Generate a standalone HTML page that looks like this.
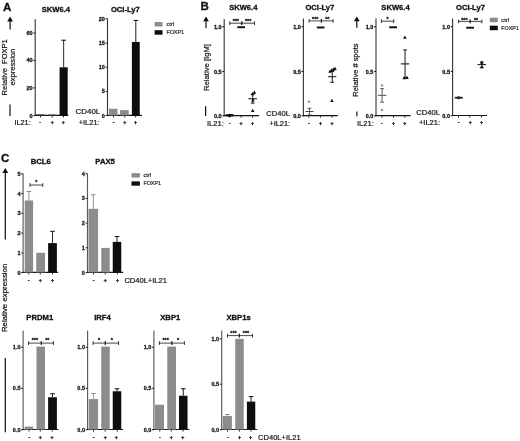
<!DOCTYPE html>
<html><head><meta charset="utf-8"><title>Figure</title>
<style>
html,body{margin:0;padding:0;background:#fff;}
body{width:520px;height:441px;overflow:hidden;}
svg{display:block;}
svg text{font-family:"Liberation Sans",sans-serif;}
</style></head><body>
<svg width="520" height="441" viewBox="0 0 520 441">
<rect width="520" height="441" fill="#fff"/>
<g filter="url(#bl)">
<text x="2.9" y="10.8" font-size="11.5" text-anchor="start" font-weight="bold" stroke="#111" stroke-width="0.3" fill="#111" >A</text>
<polygon points="10.1,16.6 7.199999999999999,21.5 13.0,21.5" fill="#111"/>
<line x1="10.1" y1="21.0" x2="10.1" y2="29.6" stroke="#111" stroke-width="1.2"/>
<text transform="translate(7.1,67.3) rotate(-90)" font-size="7.5" text-anchor="middle" fill="#111" stroke="#111" stroke-width="0.2" xml:space="preserve" textLength="56.2" lengthAdjust="spacingAndGlyphs">Relative  FOXP1</text>
<text transform="translate(14.8,67.1) rotate(-90)" font-size="7.5" text-anchor="middle" fill="#111" stroke="#111" stroke-width="0.2" xml:space="preserve" textLength="36.8" lengthAdjust="spacingAndGlyphs">expression</text>
<line x1="10" y1="104.4" x2="10" y2="116" stroke="#111" stroke-width="1.2"/>
<text x="55.9" y="12.3" font-size="7.6" text-anchor="middle" font-weight="bold" stroke="#111" stroke-width="0.3" fill="#111" >SKW6.4</text>
<line x1="35.2" y1="19.3" x2="35.2" y2="116.0" stroke="#383838" stroke-width="1.15"/>
<line x1="34.7" y1="115.4" x2="68.3" y2="115.4" stroke="#161616" stroke-width="1.2"/>
<line x1="33.300000000000004" y1="33" x2="35.2" y2="33" stroke="#161616" stroke-width="1.0"/>
<text x="32.6" y="35.0" font-size="5.5" text-anchor="end" font-weight="bold" stroke="#161616" stroke-width="0.3" fill="#161616" >60</text>
<line x1="33.300000000000004" y1="60.4" x2="35.2" y2="60.4" stroke="#161616" stroke-width="1.0"/>
<text x="32.6" y="62.4" font-size="5.5" text-anchor="end" font-weight="bold" stroke="#161616" stroke-width="0.3" fill="#161616" >40</text>
<line x1="33.300000000000004" y1="87.9" x2="35.2" y2="87.9" stroke="#161616" stroke-width="1.0"/>
<text x="32.6" y="89.9" font-size="5.5" text-anchor="end" font-weight="bold" stroke="#161616" stroke-width="0.3" fill="#161616" >20</text>
<line x1="33.300000000000004" y1="115.6" x2="35.2" y2="115.6" stroke="#161616" stroke-width="1.0"/>
<text x="32.6" y="117.6" font-size="5.5" text-anchor="end" font-weight="bold" stroke="#161616" stroke-width="0.3" fill="#161616" >0</text>
<line x1="40.5" y1="115.4" x2="40.5" y2="117.5" stroke="#161616" stroke-width="0.9"/>
<line x1="52.25" y1="115.4" x2="52.25" y2="117.5" stroke="#161616" stroke-width="0.9"/>
<line x1="63.5" y1="115.4" x2="63.5" y2="117.5" stroke="#161616" stroke-width="0.9"/>
<rect x="36.3" y="114.2" width="8.100000000000001" height="1.2000000000000028" fill="#555"/>
<rect x="48" y="114.5" width="7.600000000000001" height="0.9000000000000057" fill="#555"/>
<rect x="59.6" y="67.3" width="8.100000000000001" height="48.10000000000001" fill="#0a0a0a"/>
<line x1="63.650000000000006" y1="40.2" x2="63.650000000000006" y2="67.3" stroke="#0a0a0a" stroke-width="0.9"/>
<line x1="61.35000000000001" y1="40.2" x2="65.95" y2="40.2" stroke="#0a0a0a" stroke-width="1.0"/>
<text x="14.4" y="125" font-size="7.5" text-anchor="start" stroke="#111" stroke-width="0.2" fill="#111"  textLength="16.3" lengthAdjust="spacingAndGlyphs">IL21:</text>
<text x="40.2" y="124.1" font-size="5.2" text-anchor="middle" font-weight="bold" stroke="#111" stroke-width="0.3" fill="#111" >-</text>
<text x="52.25" y="124.1" font-size="5.2" text-anchor="middle" font-weight="bold" stroke="#111" stroke-width="0.3" fill="#111" >+</text>
<text x="63.2" y="124.1" font-size="5.2" text-anchor="middle" font-weight="bold" stroke="#111" stroke-width="0.3" fill="#111" >+</text>
<text x="125.3" y="12.3" font-size="7.6" text-anchor="middle" font-weight="bold" stroke="#111" stroke-width="0.3" fill="#111" >OCI-Ly7</text>
<line x1="107.5" y1="18.6" x2="107.5" y2="116.0" stroke="#383838" stroke-width="1.15"/>
<line x1="107.0" y1="115.4" x2="141.9" y2="115.4" stroke="#161616" stroke-width="1.2"/>
<line x1="105.6" y1="18.7" x2="107.5" y2="18.7" stroke="#161616" stroke-width="1.0"/>
<text x="104.89999999999999" y="20.7" font-size="5.5" text-anchor="end" font-weight="bold" stroke="#161616" stroke-width="0.3" fill="#161616" >20</text>
<line x1="105.6" y1="43" x2="107.5" y2="43" stroke="#161616" stroke-width="1.0"/>
<text x="104.89999999999999" y="45.0" font-size="5.5" text-anchor="end" font-weight="bold" stroke="#161616" stroke-width="0.3" fill="#161616" >15</text>
<line x1="105.6" y1="67.2" x2="107.5" y2="67.2" stroke="#161616" stroke-width="1.0"/>
<text x="104.89999999999999" y="69.2" font-size="5.5" text-anchor="end" font-weight="bold" stroke="#161616" stroke-width="0.3" fill="#161616" >10</text>
<line x1="105.6" y1="91.4" x2="107.5" y2="91.4" stroke="#161616" stroke-width="1.0"/>
<text x="104.89999999999999" y="93.4" font-size="5.5" text-anchor="end" font-weight="bold" stroke="#161616" stroke-width="0.3" fill="#161616" >5</text>
<line x1="105.6" y1="115.6" x2="107.5" y2="115.6" stroke="#161616" stroke-width="1.0"/>
<text x="104.89999999999999" y="117.6" font-size="5.5" text-anchor="end" font-weight="bold" stroke="#161616" stroke-width="0.3" fill="#161616" >0</text>
<line x1="113.5" y1="115.4" x2="113.5" y2="117.5" stroke="#161616" stroke-width="0.9"/>
<line x1="124.75" y1="115.4" x2="124.75" y2="117.5" stroke="#161616" stroke-width="0.9"/>
<line x1="135.6" y1="115.4" x2="135.6" y2="117.5" stroke="#161616" stroke-width="0.9"/>
<rect x="109" y="108.75" width="8.5" height="6.650000000000006" fill="#8c8c8c"/>
<rect x="120" y="110.1" width="8.75" height="5.300000000000011" fill="#8c8c8c"/>
<rect x="131.9" y="42" width="7.849999999999994" height="73.4" fill="#0a0a0a"/>
<line x1="135.825" y1="20.4" x2="135.825" y2="42" stroke="#0a0a0a" stroke-width="0.9"/>
<line x1="133.52499999999998" y1="20.4" x2="138.125" y2="20.4" stroke="#0a0a0a" stroke-width="1.0"/>
<text x="75.6" y="114.4" font-size="7.6" text-anchor="start" stroke="#111" stroke-width="0.2" fill="#111"  textLength="24.6" lengthAdjust="spacingAndGlyphs">CD40L</text>
<text x="78.7" y="125" font-size="7.5" text-anchor="start" stroke="#111" stroke-width="0.2" fill="#111"  textLength="20.7" lengthAdjust="spacingAndGlyphs">+IL21:</text>
<text x="113.5" y="124.1" font-size="5.2" text-anchor="middle" font-weight="bold" stroke="#111" stroke-width="0.3" fill="#111" >-</text>
<text x="124.75" y="124.1" font-size="5.2" text-anchor="middle" font-weight="bold" stroke="#111" stroke-width="0.3" fill="#111" >+</text>
<text x="135.6" y="124.1" font-size="5.2" text-anchor="middle" font-weight="bold" stroke="#111" stroke-width="0.3" fill="#111" >+</text>
<rect x="154.6" y="22.0" width="7.9" height="4.5" fill="#8c8c8c"/>
<text x="166.4" y="26.05" font-size="5.3" text-anchor="start" stroke="#2a2a2a" stroke-width="0.2" fill="#2a2a2a"  textLength="7.8" lengthAdjust="spacingAndGlyphs">ctrl</text>
<rect x="154.6" y="30.2" width="7.9" height="4.5" fill="#0a0a0a"/>
<text x="166.4" y="34.25" font-size="5.3" text-anchor="start" stroke="#2a2a2a" stroke-width="0.2" fill="#2a2a2a"  textLength="17.6" lengthAdjust="spacingAndGlyphs">FOXP1</text>
<text x="200.6" y="10.4" font-size="11.5" text-anchor="start" font-weight="bold" stroke="#111" stroke-width="0.3" fill="#111" >B</text>
<polygon points="206,16.6 203.1,21.3 208.9,21.3" fill="#111"/>
<line x1="206" y1="20.8" x2="206" y2="28.3" stroke="#111" stroke-width="1.2"/>
<text transform="translate(208.5,67.5) rotate(-90)" font-size="7.6" text-anchor="middle" fill="#111" stroke="#111" stroke-width="0.2" xml:space="preserve" textLength="47" lengthAdjust="spacingAndGlyphs">Relative [IgM]</text>
<line x1="205.6" y1="106.2" x2="205.6" y2="116" stroke="#111" stroke-width="1.2"/>
<text x="243.3" y="9.9" font-size="7.6" text-anchor="middle" font-weight="bold" stroke="#111" stroke-width="0.3" fill="#111" >SKW6.4</text>
<line x1="224.2" y1="19" x2="224.2" y2="116.19999999999999" stroke="#383838" stroke-width="1.15"/>
<line x1="223.7" y1="115.6" x2="259" y2="115.6" stroke="#161616" stroke-width="1.2"/>
<line x1="222.29999999999998" y1="26.8" x2="224.2" y2="26.8" stroke="#161616" stroke-width="1.0"/>
<text x="221.6" y="28.8" font-size="5.5" text-anchor="end" font-weight="bold" stroke="#161616" stroke-width="0.3" fill="#161616" >1.0</text>
<line x1="222.29999999999998" y1="71.5" x2="224.2" y2="71.5" stroke="#161616" stroke-width="1.0"/>
<text x="221.6" y="73.5" font-size="5.5" text-anchor="end" font-weight="bold" stroke="#161616" stroke-width="0.3" fill="#161616" >0.5</text>
<line x1="222.29999999999998" y1="115.8" x2="224.2" y2="115.8" stroke="#161616" stroke-width="1.0"/>
<text x="221.6" y="117.8" font-size="5.5" text-anchor="end" font-weight="bold" stroke="#161616" stroke-width="0.3" fill="#161616" >0.0</text>
<line x1="229.75" y1="115.6" x2="229.75" y2="117.69999999999999" stroke="#161616" stroke-width="0.9"/>
<line x1="241.1" y1="115.6" x2="241.1" y2="117.69999999999999" stroke="#161616" stroke-width="0.9"/>
<line x1="252.6" y1="115.6" x2="252.6" y2="117.69999999999999" stroke="#161616" stroke-width="0.9"/>
<line x1="229.8" y1="23.2" x2="241.8" y2="23.2" stroke="#161616" stroke-width="0.8"/>
<line x1="229.8" y1="21.4" x2="229.8" y2="25.0" stroke="#161616" stroke-width="0.9"/>
<line x1="241.8" y1="21.4" x2="241.8" y2="25.0" stroke="#161616" stroke-width="0.9"/>
<text x="235.8" y="23.4" font-size="5.4" text-anchor="middle" font-weight="bold" stroke="#161616" stroke-width="0.3" fill="#161616" >***</text>
<line x1="241.8" y1="23.2" x2="254.5" y2="23.2" stroke="#161616" stroke-width="0.8"/>
<line x1="241.8" y1="21.4" x2="241.8" y2="25.0" stroke="#161616" stroke-width="0.9"/>
<line x1="254.5" y1="21.4" x2="254.5" y2="25.0" stroke="#161616" stroke-width="0.9"/>
<text x="248.15" y="23.4" font-size="5.4" text-anchor="middle" font-weight="bold" stroke="#161616" stroke-width="0.3" fill="#161616" >***</text>
<line x1="237.3" y1="27.2" x2="245" y2="27.2" stroke="#0a0a0a" stroke-width="1.9"/>
<line x1="225.8" y1="115.3" x2="233.6" y2="115.3" stroke="#111" stroke-width="2.3"/>
<ellipse cx="229.7" cy="115.2" rx="1.8" ry="1.5" fill="#111"/>
<line x1="248.4" y1="98.75" x2="257" y2="98.75" stroke="#0a0a0a" stroke-width="1.0"/>
<line x1="252.7" y1="94.4" x2="252.7" y2="103.1" stroke="#0a0a0a" stroke-width="0.9"/>
<line x1="250.79999999999998" y1="94.4" x2="254.6" y2="94.4" stroke="#0a0a0a" stroke-width="0.9"/>
<line x1="250.79999999999998" y1="103.1" x2="254.6" y2="103.1" stroke="#0a0a0a" stroke-width="0.9"/>
<polygon points="254.4,90.55 252.65,93.7875 256.15,93.7875" fill="#0a0a0a"/>
<polygon points="252.5,91.95 250.75,95.1875 254.25,95.1875" fill="#0a0a0a"/>
<polygon points="252.9,98.15 251.15,101.3875 254.65,101.3875" fill="#0a0a0a"/>
<polygon points="252.7,108.85 250.95,112.08749999999999 254.45,112.08749999999999" fill="#0a0a0a"/>
<text x="206.9" y="125.6" font-size="7.6" text-anchor="start" stroke="#111" stroke-width="0.2" fill="#111"  textLength="16.9" lengthAdjust="spacingAndGlyphs">IL21:</text>
<text x="229.75" y="124.7" font-size="5.2" text-anchor="middle" font-weight="bold" stroke="#111" stroke-width="0.3" fill="#111" >-</text>
<text x="241.1" y="124.7" font-size="5.2" text-anchor="middle" font-weight="bold" stroke="#111" stroke-width="0.3" fill="#111" >+</text>
<text x="252.6" y="124.7" font-size="5.2" text-anchor="middle" font-weight="bold" stroke="#111" stroke-width="0.3" fill="#111" >+</text>
<text x="319.8" y="9.9" font-size="7.6" text-anchor="middle" font-weight="bold" stroke="#111" stroke-width="0.3" fill="#111" >OCI-Ly7</text>
<line x1="303.4" y1="18.6" x2="303.4" y2="116.19999999999999" stroke="#383838" stroke-width="1.15"/>
<line x1="302.9" y1="115.6" x2="337.8" y2="115.6" stroke="#161616" stroke-width="1.2"/>
<line x1="301.5" y1="26.8" x2="303.4" y2="26.8" stroke="#161616" stroke-width="1.0"/>
<text x="300.8" y="28.8" font-size="5.5" text-anchor="end" font-weight="bold" stroke="#161616" stroke-width="0.3" fill="#161616" >1.0</text>
<line x1="301.5" y1="71.5" x2="303.4" y2="71.5" stroke="#161616" stroke-width="1.0"/>
<text x="300.8" y="73.5" font-size="5.5" text-anchor="end" font-weight="bold" stroke="#161616" stroke-width="0.3" fill="#161616" >0.5</text>
<line x1="301.5" y1="115.8" x2="303.4" y2="115.8" stroke="#161616" stroke-width="1.0"/>
<text x="300.8" y="117.8" font-size="5.5" text-anchor="end" font-weight="bold" stroke="#161616" stroke-width="0.3" fill="#161616" >0.0</text>
<line x1="308.75" y1="115.6" x2="308.75" y2="117.69999999999999" stroke="#161616" stroke-width="0.9"/>
<line x1="320.4" y1="115.6" x2="320.4" y2="117.69999999999999" stroke="#161616" stroke-width="0.9"/>
<line x1="332" y1="115.6" x2="332" y2="117.69999999999999" stroke="#161616" stroke-width="0.9"/>
<line x1="309.1" y1="20.9" x2="321.4" y2="20.9" stroke="#161616" stroke-width="0.8"/>
<line x1="309.1" y1="19.099999999999998" x2="309.1" y2="22.7" stroke="#161616" stroke-width="0.9"/>
<line x1="321.4" y1="19.099999999999998" x2="321.4" y2="22.7" stroke="#161616" stroke-width="0.9"/>
<text x="315.25" y="21.099999999999998" font-size="5.4" text-anchor="middle" font-weight="bold" stroke="#161616" stroke-width="0.3" fill="#161616" >***</text>
<line x1="321.4" y1="20.9" x2="333.1" y2="20.9" stroke="#161616" stroke-width="0.8"/>
<line x1="321.4" y1="19.099999999999998" x2="321.4" y2="22.7" stroke="#161616" stroke-width="0.9"/>
<line x1="333.1" y1="19.099999999999998" x2="333.1" y2="22.7" stroke="#161616" stroke-width="0.9"/>
<text x="327.25" y="21.099999999999998" font-size="5.4" text-anchor="middle" font-weight="bold" stroke="#161616" stroke-width="0.3" fill="#161616" >**</text>
<line x1="316.8" y1="27.5" x2="324.5" y2="27.5" stroke="#0a0a0a" stroke-width="1.9"/>
<circle cx="309" cy="101.7" r="1.25" fill="#999"/>
<line x1="305.4" y1="111.5" x2="313.5" y2="111.5" stroke="#4a4a4a" stroke-width="1.0"/>
<line x1="309.45" y1="108.3" x2="309.45" y2="115" stroke="#4a4a4a" stroke-width="0.9"/>
<line x1="307.55" y1="108.3" x2="311.34999999999997" y2="108.3" stroke="#4a4a4a" stroke-width="0.9"/>
<line x1="307.55" y1="115" x2="311.34999999999997" y2="115" stroke="#4a4a4a" stroke-width="0.9"/>
<line x1="328.2" y1="76.7" x2="336.3" y2="76.7" stroke="#0a0a0a" stroke-width="1.0"/>
<line x1="332.25" y1="71.5" x2="332.25" y2="82.3" stroke="#0a0a0a" stroke-width="0.9"/>
<line x1="330.35" y1="71.5" x2="334.15" y2="71.5" stroke="#0a0a0a" stroke-width="0.9"/>
<line x1="330.35" y1="82.3" x2="334.15" y2="82.3" stroke="#0a0a0a" stroke-width="0.9"/>
<polygon points="330,69.45 328.25,72.6875 331.75,72.6875" fill="#0a0a0a"/>
<polygon points="331.8,68.25 330.05,71.4875 333.55,71.4875" fill="#0a0a0a"/>
<polygon points="333.4,67.45 331.65,70.6875 335.15,70.6875" fill="#0a0a0a"/>
<polygon points="335,66.85 333.25,70.08749999999999 336.75,70.08749999999999" fill="#0a0a0a"/>
<polygon points="331.9,98.65 330.15,101.8875 333.65,101.8875" fill="#0a0a0a"/>
<text x="266.25" y="116.4" font-size="7.6" text-anchor="start" stroke="#111" stroke-width="0.2" fill="#111"  textLength="23.6" lengthAdjust="spacingAndGlyphs">CD40L</text>
<text x="269.4" y="125.9" font-size="7.5" text-anchor="start" stroke="#111" stroke-width="0.2" fill="#111"  textLength="20.7" lengthAdjust="spacingAndGlyphs">+IL21:</text>
<text x="308.75" y="124.9" font-size="5.2" text-anchor="middle" font-weight="bold" stroke="#111" stroke-width="0.3" fill="#111" >-</text>
<text x="320.6" y="124.9" font-size="5.2" text-anchor="middle" font-weight="bold" stroke="#111" stroke-width="0.3" fill="#111" >+</text>
<text x="332" y="124.9" font-size="5.2" text-anchor="middle" font-weight="bold" stroke="#111" stroke-width="0.3" fill="#111" >+</text>
<polygon points="356.8,16.6 353.90000000000003,21.3 359.7,21.3" fill="#111"/>
<line x1="356.8" y1="20.8" x2="356.8" y2="27.8" stroke="#111" stroke-width="1.2"/>
<text transform="translate(358,70.1) rotate(-90)" font-size="7.6" text-anchor="middle" fill="#111" stroke="#111" stroke-width="0.2" xml:space="preserve" textLength="53.2" lengthAdjust="spacingAndGlyphs">Relative # spots</text>
<line x1="356.9" y1="111.5" x2="356.9" y2="116.2" stroke="#111" stroke-width="1.2"/>
<text x="395.5" y="9.9" font-size="7.6" text-anchor="middle" font-weight="bold" stroke="#111" stroke-width="0.3" fill="#111" >SKW6.4</text>
<line x1="376" y1="18.6" x2="376" y2="116.19999999999999" stroke="#383838" stroke-width="1.15"/>
<line x1="375.5" y1="115.6" x2="410.6" y2="115.6" stroke="#161616" stroke-width="1.2"/>
<line x1="374.1" y1="26.8" x2="376" y2="26.8" stroke="#161616" stroke-width="1.0"/>
<text x="373.40000000000003" y="28.8" font-size="5.5" text-anchor="end" font-weight="bold" stroke="#161616" stroke-width="0.3" fill="#161616" >1.0</text>
<line x1="374.1" y1="71.5" x2="376" y2="71.5" stroke="#161616" stroke-width="1.0"/>
<text x="373.40000000000003" y="73.5" font-size="5.5" text-anchor="end" font-weight="bold" stroke="#161616" stroke-width="0.3" fill="#161616" >0.5</text>
<line x1="374.1" y1="115.8" x2="376" y2="115.8" stroke="#161616" stroke-width="1.0"/>
<text x="373.40000000000003" y="117.8" font-size="5.5" text-anchor="end" font-weight="bold" stroke="#161616" stroke-width="0.3" fill="#161616" >0.0</text>
<line x1="381.9" y1="115.6" x2="381.9" y2="117.69999999999999" stroke="#161616" stroke-width="0.9"/>
<line x1="393.5" y1="115.6" x2="393.5" y2="117.69999999999999" stroke="#161616" stroke-width="0.9"/>
<line x1="404.75" y1="115.6" x2="404.75" y2="117.69999999999999" stroke="#161616" stroke-width="0.9"/>
<line x1="381.4" y1="21.2" x2="393.7" y2="21.2" stroke="#161616" stroke-width="0.8"/>
<line x1="381.4" y1="19.4" x2="381.4" y2="23.0" stroke="#161616" stroke-width="0.9"/>
<line x1="393.7" y1="19.4" x2="393.7" y2="23.0" stroke="#161616" stroke-width="0.9"/>
<text x="387.54999999999995" y="21.4" font-size="5.4" text-anchor="middle" font-weight="bold" stroke="#161616" stroke-width="0.3" fill="#161616" >*</text>
<line x1="389.2" y1="27.3" x2="397" y2="27.3" stroke="#0a0a0a" stroke-width="1.9"/>
<circle cx="382" cy="85.6" r="1.25" fill="#999"/>
<circle cx="382" cy="109.9" r="1.25" fill="#999"/>
<line x1="377.9" y1="95.3" x2="386.3" y2="95.3" stroke="#4a4a4a" stroke-width="1.0"/>
<line x1="382.1" y1="88.6" x2="382.1" y2="102.2" stroke="#4a4a4a" stroke-width="0.9"/>
<line x1="380.20000000000005" y1="88.6" x2="384.0" y2="88.6" stroke="#4a4a4a" stroke-width="0.9"/>
<line x1="380.20000000000005" y1="102.2" x2="384.0" y2="102.2" stroke="#4a4a4a" stroke-width="0.9"/>
<line x1="400.9" y1="63.9" x2="409.2" y2="63.9" stroke="#0a0a0a" stroke-width="1.0"/>
<line x1="405.04999999999995" y1="49.9" x2="405.04999999999995" y2="77.7" stroke="#0a0a0a" stroke-width="0.9"/>
<line x1="403.15" y1="49.9" x2="406.94999999999993" y2="49.9" stroke="#0a0a0a" stroke-width="0.9"/>
<line x1="403.15" y1="77.7" x2="406.94999999999993" y2="77.7" stroke="#0a0a0a" stroke-width="0.9"/>
<polygon points="404.9,35.45 403.15,38.6875 406.65,38.6875" fill="#0a0a0a"/>
<polygon points="404.2,76.05 402.45,79.2875 405.95,79.2875" fill="#0a0a0a"/>
<polygon points="407,75.75 405.25,78.9875 408.75,78.9875" fill="#0a0a0a"/>
<text x="356.9" y="125.9" font-size="7.6" text-anchor="start" stroke="#111" stroke-width="0.2" fill="#111"  textLength="16.9" lengthAdjust="spacingAndGlyphs">IL21:</text>
<text x="381.9" y="124.8" font-size="5.2" text-anchor="middle" font-weight="bold" stroke="#111" stroke-width="0.3" fill="#111" >-</text>
<text x="393.5" y="124.8" font-size="5.2" text-anchor="middle" font-weight="bold" stroke="#111" stroke-width="0.3" fill="#111" >+</text>
<text x="404.75" y="124.8" font-size="5.2" text-anchor="middle" font-weight="bold" stroke="#111" stroke-width="0.3" fill="#111" >+</text>
<text x="470.5" y="9.9" font-size="7.6" text-anchor="middle" font-weight="bold" stroke="#111" stroke-width="0.3" fill="#111" >OCI-Ly7</text>
<line x1="452.6" y1="18.4" x2="452.6" y2="116.1" stroke="#383838" stroke-width="1.15"/>
<line x1="452.1" y1="115.5" x2="487" y2="115.5" stroke="#161616" stroke-width="1.2"/>
<line x1="450.70000000000005" y1="26.8" x2="452.6" y2="26.8" stroke="#161616" stroke-width="1.0"/>
<text x="450.00000000000006" y="28.8" font-size="5.5" text-anchor="end" font-weight="bold" stroke="#161616" stroke-width="0.3" fill="#161616" >1.0</text>
<line x1="450.70000000000005" y1="71.5" x2="452.6" y2="71.5" stroke="#161616" stroke-width="1.0"/>
<text x="450.00000000000006" y="73.5" font-size="5.5" text-anchor="end" font-weight="bold" stroke="#161616" stroke-width="0.3" fill="#161616" >0.5</text>
<line x1="450.70000000000005" y1="115.8" x2="452.6" y2="115.8" stroke="#161616" stroke-width="1.0"/>
<text x="450.00000000000006" y="117.8" font-size="5.5" text-anchor="end" font-weight="bold" stroke="#161616" stroke-width="0.3" fill="#161616" >0.0</text>
<line x1="458.5" y1="115.5" x2="458.5" y2="117.6" stroke="#161616" stroke-width="0.9"/>
<line x1="469.8" y1="115.5" x2="469.8" y2="117.6" stroke="#161616" stroke-width="0.9"/>
<line x1="481.5" y1="115.5" x2="481.5" y2="117.6" stroke="#161616" stroke-width="0.9"/>
<line x1="458.6" y1="21.4" x2="470.2" y2="21.4" stroke="#161616" stroke-width="0.8"/>
<line x1="458.6" y1="19.599999999999998" x2="458.6" y2="23.2" stroke="#161616" stroke-width="0.9"/>
<line x1="470.2" y1="19.599999999999998" x2="470.2" y2="23.2" stroke="#161616" stroke-width="0.9"/>
<text x="464.4" y="21.599999999999998" font-size="5.4" text-anchor="middle" font-weight="bold" stroke="#161616" stroke-width="0.3" fill="#161616" >***</text>
<line x1="470.2" y1="21.4" x2="481.9" y2="21.4" stroke="#161616" stroke-width="0.8"/>
<line x1="470.2" y1="19.599999999999998" x2="470.2" y2="23.2" stroke="#161616" stroke-width="0.9"/>
<line x1="481.9" y1="19.599999999999998" x2="481.9" y2="23.2" stroke="#161616" stroke-width="0.9"/>
<text x="476.04999999999995" y="21.599999999999998" font-size="5.4" text-anchor="middle" font-weight="bold" stroke="#161616" stroke-width="0.3" fill="#161616" >**</text>
<line x1="466.2" y1="27.7" x2="473.9" y2="27.7" stroke="#0a0a0a" stroke-width="1.9"/>
<line x1="454.8" y1="97.7" x2="462.8" y2="97.7" stroke="#222" stroke-width="1.8"/>
<ellipse cx="458.6" cy="97.8" rx="1.9" ry="1.5" fill="#222"/>
<line x1="477.5" y1="64.6" x2="486" y2="64.6" stroke="#0a0a0a" stroke-width="1.0"/>
<line x1="481.75" y1="62" x2="481.75" y2="67.6" stroke="#0a0a0a" stroke-width="0.9"/>
<line x1="479.85" y1="62" x2="483.65" y2="62" stroke="#0a0a0a" stroke-width="0.9"/>
<line x1="479.85" y1="67.6" x2="483.65" y2="67.6" stroke="#0a0a0a" stroke-width="0.9"/>
<polygon points="481.8,60.45 480.05,63.6875 483.55,63.6875" fill="#0a0a0a"/>
<polygon points="481.8,65.05 480.05,68.2875 483.55,68.2875" fill="#0a0a0a"/>
<text x="416.25" y="114.7" font-size="7.6" text-anchor="start" stroke="#111" stroke-width="0.2" fill="#111"  textLength="23.7" lengthAdjust="spacingAndGlyphs">CD40L</text>
<text x="419" y="125.2" font-size="7.5" text-anchor="start" stroke="#111" stroke-width="0.2" fill="#111"  textLength="21" lengthAdjust="spacingAndGlyphs">+IL21:</text>
<text x="458.5" y="124.2" font-size="5.2" text-anchor="middle" font-weight="bold" stroke="#111" stroke-width="0.3" fill="#111" >-</text>
<text x="470.2" y="124.2" font-size="5.2" text-anchor="middle" font-weight="bold" stroke="#111" stroke-width="0.3" fill="#111" >+</text>
<text x="481.5" y="124.2" font-size="5.2" text-anchor="middle" font-weight="bold" stroke="#111" stroke-width="0.3" fill="#111" >+</text>
<rect x="489.8" y="17.7" width="8" height="4.5" fill="#8c8c8c"/>
<text x="501.3" y="21.75" font-size="5.3" text-anchor="start" stroke="#2a2a2a" stroke-width="0.2" fill="#2a2a2a"  textLength="7.8" lengthAdjust="spacingAndGlyphs">ctrl</text>
<rect x="489.8" y="25.7" width="8" height="4.5" fill="#0a0a0a"/>
<text x="501.3" y="29.75" font-size="5.3" text-anchor="start" stroke="#2a2a2a" stroke-width="0.2" fill="#2a2a2a"  textLength="17.6" lengthAdjust="spacingAndGlyphs">FOXP1</text>
<text x="0.9" y="161.9" font-size="11.5" text-anchor="start" font-weight="bold" stroke="#111" stroke-width="0.3" fill="#111" >C</text>
<polygon points="5.3,168 2.4,173.1 8.2,173.1" fill="#111"/>
<line x1="5.3" y1="172.6" x2="5.3" y2="239.4" stroke="#111" stroke-width="1.2"/>
<text transform="translate(7.3,297.9) rotate(-90)" font-size="7.7" text-anchor="middle" fill="#111" stroke="#111" stroke-width="0.2" xml:space="preserve" textLength="68.4" lengthAdjust="spacingAndGlyphs">Relative expression</text>
<line x1="5.3" y1="358" x2="5.3" y2="432.2" stroke="#111" stroke-width="1.2"/>
<text x="40.8" y="164.4" font-size="7.7" text-anchor="middle" font-weight="bold" stroke="#111" stroke-width="0.3" fill="#111" >BCL6</text>
<line x1="23.1" y1="173.5" x2="23.1" y2="273.0" stroke="#5a5a5a" stroke-width="1.15"/>
<line x1="22.6" y1="272.4" x2="58.2" y2="272.4" stroke="#1c1c1c" stroke-width="1.2"/>
<line x1="21.200000000000003" y1="173.75" x2="23.1" y2="173.75" stroke="#1c1c1c" stroke-width="1.0"/>
<text x="20.500000000000004" y="175.75" font-size="5.5" text-anchor="end" font-weight="bold" stroke="#1c1c1c" stroke-width="0.3" fill="#1c1c1c" >5</text>
<line x1="21.200000000000003" y1="193.5" x2="23.1" y2="193.5" stroke="#1c1c1c" stroke-width="1.0"/>
<text x="20.500000000000004" y="195.5" font-size="5.5" text-anchor="end" font-weight="bold" stroke="#1c1c1c" stroke-width="0.3" fill="#1c1c1c" >4</text>
<line x1="21.200000000000003" y1="213.3" x2="23.1" y2="213.3" stroke="#1c1c1c" stroke-width="1.0"/>
<text x="20.500000000000004" y="215.3" font-size="5.5" text-anchor="end" font-weight="bold" stroke="#1c1c1c" stroke-width="0.3" fill="#1c1c1c" >3</text>
<line x1="21.200000000000003" y1="233.1" x2="23.1" y2="233.1" stroke="#1c1c1c" stroke-width="1.0"/>
<text x="20.500000000000004" y="235.1" font-size="5.5" text-anchor="end" font-weight="bold" stroke="#1c1c1c" stroke-width="0.3" fill="#1c1c1c" >2</text>
<line x1="21.200000000000003" y1="252.9" x2="23.1" y2="252.9" stroke="#1c1c1c" stroke-width="1.0"/>
<text x="20.500000000000004" y="254.9" font-size="5.5" text-anchor="end" font-weight="bold" stroke="#1c1c1c" stroke-width="0.3" fill="#1c1c1c" >1</text>
<line x1="21.200000000000003" y1="272.6" x2="23.1" y2="272.6" stroke="#1c1c1c" stroke-width="1.0"/>
<text x="20.500000000000004" y="274.6" font-size="5.5" text-anchor="end" font-weight="bold" stroke="#1c1c1c" stroke-width="0.3" fill="#1c1c1c" >0</text>
<line x1="28.75" y1="272.4" x2="28.75" y2="274.5" stroke="#1c1c1c" stroke-width="0.9"/>
<line x1="40.25" y1="272.4" x2="40.25" y2="274.5" stroke="#1c1c1c" stroke-width="0.9"/>
<line x1="52.5" y1="272.4" x2="52.5" y2="274.5" stroke="#1c1c1c" stroke-width="0.9"/>
<rect x="24.75" y="200.5" width="8.350000000000001" height="71.89999999999998" fill="#8c8c8c"/>
<line x1="28.925" y1="191.5" x2="28.925" y2="200.5" stroke="#8c8c8c" stroke-width="0.9"/>
<line x1="26.625" y1="191.5" x2="31.225" y2="191.5" stroke="#8c8c8c" stroke-width="1.0"/>
<rect x="36.25" y="252.8" width="8.75" height="19.599999999999966" fill="#8c8c8c"/>
<rect x="48.1" y="243.1" width="8.799999999999997" height="29.299999999999983" fill="#0a0a0a"/>
<line x1="52.5" y1="231.3" x2="52.5" y2="243.1" stroke="#0a0a0a" stroke-width="0.9"/>
<line x1="50.2" y1="231.3" x2="54.8" y2="231.3" stroke="#0a0a0a" stroke-width="1.0"/>
<line x1="30" y1="185" x2="42.75" y2="185" stroke="#1c1c1c" stroke-width="0.8"/>
<line x1="30" y1="183.2" x2="30" y2="186.8" stroke="#1c1c1c" stroke-width="0.9"/>
<line x1="42.75" y1="183.2" x2="42.75" y2="186.8" stroke="#1c1c1c" stroke-width="0.9"/>
<text x="36.375" y="184.4" font-size="5.4" text-anchor="middle" font-weight="bold" stroke="#1c1c1c" stroke-width="0.3" fill="#1c1c1c" >*</text>
<text x="28.6" y="281.5" font-size="5.2" text-anchor="middle" font-weight="bold" stroke="#111" stroke-width="0.3" fill="#111" >-</text>
<text x="40.25" y="281.5" font-size="5.2" text-anchor="middle" font-weight="bold" stroke="#111" stroke-width="0.3" fill="#111" >+</text>
<text x="52.5" y="281.5" font-size="5.2" text-anchor="middle" font-weight="bold" stroke="#111" stroke-width="0.3" fill="#111" >+</text>
<text x="105.1" y="164.4" font-size="7.7" text-anchor="middle" font-weight="bold" stroke="#111" stroke-width="0.3" fill="#111" >PAX5</text>
<line x1="87.5" y1="173.5" x2="87.5" y2="273.0" stroke="#5a5a5a" stroke-width="1.15"/>
<line x1="87.0" y1="272.4" x2="123.2" y2="272.4" stroke="#1c1c1c" stroke-width="1.2"/>
<line x1="85.6" y1="173.75" x2="87.5" y2="173.75" stroke="#1c1c1c" stroke-width="1.0"/>
<text x="84.89999999999999" y="175.75" font-size="5.5" text-anchor="end" font-weight="bold" stroke="#1c1c1c" stroke-width="0.3" fill="#1c1c1c" >4</text>
<line x1="85.6" y1="198.4" x2="87.5" y2="198.4" stroke="#1c1c1c" stroke-width="1.0"/>
<text x="84.89999999999999" y="200.4" font-size="5.5" text-anchor="end" font-weight="bold" stroke="#1c1c1c" stroke-width="0.3" fill="#1c1c1c" >3</text>
<line x1="85.6" y1="223.1" x2="87.5" y2="223.1" stroke="#1c1c1c" stroke-width="1.0"/>
<text x="84.89999999999999" y="225.1" font-size="5.5" text-anchor="end" font-weight="bold" stroke="#1c1c1c" stroke-width="0.3" fill="#1c1c1c" >2</text>
<line x1="85.6" y1="247.8" x2="87.5" y2="247.8" stroke="#1c1c1c" stroke-width="1.0"/>
<text x="84.89999999999999" y="249.8" font-size="5.5" text-anchor="end" font-weight="bold" stroke="#1c1c1c" stroke-width="0.3" fill="#1c1c1c" >1</text>
<line x1="85.6" y1="272.6" x2="87.5" y2="272.6" stroke="#1c1c1c" stroke-width="1.0"/>
<text x="84.89999999999999" y="274.6" font-size="5.5" text-anchor="end" font-weight="bold" stroke="#1c1c1c" stroke-width="0.3" fill="#1c1c1c" >0</text>
<line x1="93.5" y1="272.4" x2="93.5" y2="274.5" stroke="#1c1c1c" stroke-width="0.9"/>
<line x1="105.25" y1="272.4" x2="105.25" y2="274.5" stroke="#1c1c1c" stroke-width="0.9"/>
<line x1="117.25" y1="272.4" x2="117.25" y2="274.5" stroke="#1c1c1c" stroke-width="0.9"/>
<rect x="88.5" y="208.8" width="9.599999999999994" height="63.599999999999966" fill="#8c8c8c"/>
<line x1="93.3" y1="194.75" x2="93.3" y2="208.8" stroke="#8c8c8c" stroke-width="0.9"/>
<line x1="91.0" y1="194.75" x2="95.6" y2="194.75" stroke="#8c8c8c" stroke-width="1.0"/>
<rect x="101.25" y="247.9" width="8.5" height="24.49999999999997" fill="#8c8c8c"/>
<rect x="112.75" y="241.9" width="8.5" height="30.49999999999997" fill="#0a0a0a"/>
<line x1="117.0" y1="236.5" x2="117.0" y2="241.9" stroke="#0a0a0a" stroke-width="0.9"/>
<line x1="114.7" y1="236.5" x2="119.3" y2="236.5" stroke="#0a0a0a" stroke-width="1.0"/>
<text x="93.5" y="281.5" font-size="5.2" text-anchor="middle" font-weight="bold" stroke="#111" stroke-width="0.3" fill="#111" >-</text>
<text x="105.25" y="281.5" font-size="5.2" text-anchor="middle" font-weight="bold" stroke="#111" stroke-width="0.3" fill="#111" >+</text>
<text x="117.5" y="281.5" font-size="5.2" text-anchor="middle" font-weight="bold" stroke="#111" stroke-width="0.3" fill="#111" >+</text>
<text x="124.4" y="283.3" font-size="7.55" text-anchor="start" stroke="#111" stroke-width="0.2" fill="#111"  textLength="42.5" lengthAdjust="spacingAndGlyphs">CD40L+IL21</text>
<rect x="131.5" y="173.2" width="8.4" height="4.3" fill="#8c8c8c"/>
<text x="143.4" y="177.15" font-size="5.3" text-anchor="start" stroke="#2a2a2a" stroke-width="0.2" fill="#2a2a2a"  textLength="7.8" lengthAdjust="spacingAndGlyphs">ctrl</text>
<rect x="131.5" y="181.4" width="8.4" height="4.3" fill="#0a0a0a"/>
<text x="143.4" y="185.35000000000002" font-size="5.3" text-anchor="start" stroke="#2a2a2a" stroke-width="0.2" fill="#2a2a2a"  textLength="17.6" lengthAdjust="spacingAndGlyphs">FOXP1</text>
<text x="39.8" y="320.1" font-size="7.7" text-anchor="middle" font-weight="bold" stroke="#111" stroke-width="0.3" fill="#111" >PRDM1</text>
<line x1="23.1" y1="330.6" x2="23.1" y2="430.1" stroke="#5a5a5a" stroke-width="1.15"/>
<line x1="22.6" y1="429.5" x2="58.5" y2="429.5" stroke="#1c1c1c" stroke-width="1.2"/>
<line x1="21.200000000000003" y1="347.2" x2="23.1" y2="347.2" stroke="#1c1c1c" stroke-width="1.0"/>
<text x="20.500000000000004" y="349.2" font-size="5.5" text-anchor="end" font-weight="bold" stroke="#1c1c1c" stroke-width="0.3" fill="#1c1c1c" >1.0</text>
<line x1="21.200000000000003" y1="388.3" x2="23.1" y2="388.3" stroke="#1c1c1c" stroke-width="1.0"/>
<text x="20.500000000000004" y="390.3" font-size="5.5" text-anchor="end" font-weight="bold" stroke="#1c1c1c" stroke-width="0.3" fill="#1c1c1c" >0.5</text>
<line x1="21.200000000000003" y1="429.7" x2="23.1" y2="429.7" stroke="#1c1c1c" stroke-width="1.0"/>
<text x="20.500000000000004" y="431.7" font-size="5.5" text-anchor="end" font-weight="bold" stroke="#1c1c1c" stroke-width="0.3" fill="#1c1c1c" >0.0</text>
<line x1="29" y1="429.5" x2="29" y2="431.6" stroke="#1c1c1c" stroke-width="0.9"/>
<line x1="40.25" y1="429.5" x2="40.25" y2="431.6" stroke="#1c1c1c" stroke-width="0.9"/>
<line x1="52.25" y1="429.5" x2="52.25" y2="431.6" stroke="#1c1c1c" stroke-width="0.9"/>
<rect x="24.75" y="426.6" width="8.350000000000001" height="2.8999999999999773" fill="#8c8c8c"/>
<rect x="36.5" y="346.6" width="8.5" height="82.89999999999998" fill="#8c8c8c"/>
<rect x="48.1" y="397.25" width="8.799999999999997" height="32.25" fill="#0a0a0a"/>
<line x1="52.5" y1="393.75" x2="52.5" y2="397.25" stroke="#0a0a0a" stroke-width="0.9"/>
<line x1="50.2" y1="393.75" x2="54.8" y2="393.75" stroke="#0a0a0a" stroke-width="1.0"/>
<line x1="28.5" y1="343.1" x2="41.25" y2="343.1" stroke="#1c1c1c" stroke-width="0.8"/>
<line x1="28.5" y1="341.3" x2="28.5" y2="344.90000000000003" stroke="#1c1c1c" stroke-width="0.9"/>
<line x1="41.25" y1="341.3" x2="41.25" y2="344.90000000000003" stroke="#1c1c1c" stroke-width="0.9"/>
<text x="34.875" y="341.6" font-size="5.4" text-anchor="middle" font-weight="bold" stroke="#1c1c1c" stroke-width="0.3" fill="#1c1c1c" >***</text>
<line x1="41.25" y1="343.1" x2="53.5" y2="343.1" stroke="#1c1c1c" stroke-width="0.8"/>
<line x1="41.25" y1="341.3" x2="41.25" y2="344.90000000000003" stroke="#1c1c1c" stroke-width="0.9"/>
<line x1="53.5" y1="341.3" x2="53.5" y2="344.90000000000003" stroke="#1c1c1c" stroke-width="0.9"/>
<text x="47.375" y="341.6" font-size="5.4" text-anchor="middle" font-weight="bold" stroke="#1c1c1c" stroke-width="0.3" fill="#1c1c1c" >**</text>
<text x="29.3" y="438.7" font-size="5.2" text-anchor="middle" font-weight="bold" stroke="#111" stroke-width="0.3" fill="#111" >-</text>
<text x="40.25" y="438.7" font-size="5.2" text-anchor="middle" font-weight="bold" stroke="#111" stroke-width="0.3" fill="#111" >+</text>
<text x="51.9" y="438.7" font-size="5.2" text-anchor="middle" font-weight="bold" stroke="#111" stroke-width="0.3" fill="#111" >+</text>
<text x="102.5" y="320.1" font-size="7.7" text-anchor="middle" font-weight="bold" stroke="#111" stroke-width="0.3" fill="#111" >IRF4</text>
<line x1="87.6" y1="330.6" x2="87.6" y2="430.1" stroke="#5a5a5a" stroke-width="1.15"/>
<line x1="87.1" y1="429.5" x2="123.1" y2="429.5" stroke="#1c1c1c" stroke-width="1.2"/>
<line x1="85.69999999999999" y1="347.2" x2="87.6" y2="347.2" stroke="#1c1c1c" stroke-width="1.0"/>
<text x="84.99999999999999" y="349.2" font-size="5.5" text-anchor="end" font-weight="bold" stroke="#1c1c1c" stroke-width="0.3" fill="#1c1c1c" >1.0</text>
<line x1="85.69999999999999" y1="388.3" x2="87.6" y2="388.3" stroke="#1c1c1c" stroke-width="1.0"/>
<text x="84.99999999999999" y="390.3" font-size="5.5" text-anchor="end" font-weight="bold" stroke="#1c1c1c" stroke-width="0.3" fill="#1c1c1c" >0.5</text>
<line x1="85.69999999999999" y1="429.7" x2="87.6" y2="429.7" stroke="#1c1c1c" stroke-width="1.0"/>
<text x="84.99999999999999" y="431.7" font-size="5.5" text-anchor="end" font-weight="bold" stroke="#1c1c1c" stroke-width="0.3" fill="#1c1c1c" >0.0</text>
<line x1="93.5" y1="429.5" x2="93.5" y2="431.6" stroke="#1c1c1c" stroke-width="0.9"/>
<line x1="105.25" y1="429.5" x2="105.25" y2="431.6" stroke="#1c1c1c" stroke-width="0.9"/>
<line x1="117.25" y1="429.5" x2="117.25" y2="431.6" stroke="#1c1c1c" stroke-width="0.9"/>
<rect x="88.75" y="399.1" width="9.349999999999994" height="30.399999999999977" fill="#8c8c8c"/>
<line x1="93.425" y1="393.5" x2="93.425" y2="399.1" stroke="#8c8c8c" stroke-width="0.9"/>
<line x1="91.125" y1="393.5" x2="95.725" y2="393.5" stroke="#8c8c8c" stroke-width="1.0"/>
<rect x="101.25" y="346.6" width="8.5" height="82.89999999999998" fill="#8c8c8c"/>
<rect x="112.75" y="391.25" width="8.5" height="38.25" fill="#0a0a0a"/>
<line x1="117.0" y1="388.75" x2="117.0" y2="391.25" stroke="#0a0a0a" stroke-width="0.9"/>
<line x1="114.7" y1="388.75" x2="119.3" y2="388.75" stroke="#0a0a0a" stroke-width="1.0"/>
<line x1="93.1" y1="343.1" x2="105.25" y2="343.1" stroke="#1c1c1c" stroke-width="0.8"/>
<line x1="93.1" y1="341.3" x2="93.1" y2="344.90000000000003" stroke="#1c1c1c" stroke-width="0.9"/>
<line x1="105.25" y1="341.3" x2="105.25" y2="344.90000000000003" stroke="#1c1c1c" stroke-width="0.9"/>
<text x="99.175" y="341.6" font-size="5.4" text-anchor="middle" font-weight="bold" stroke="#1c1c1c" stroke-width="0.3" fill="#1c1c1c" >*</text>
<line x1="105.25" y1="343.1" x2="118.5" y2="343.1" stroke="#1c1c1c" stroke-width="0.8"/>
<line x1="105.25" y1="341.3" x2="105.25" y2="344.90000000000003" stroke="#1c1c1c" stroke-width="0.9"/>
<line x1="118.5" y1="341.3" x2="118.5" y2="344.90000000000003" stroke="#1c1c1c" stroke-width="0.9"/>
<text x="111.875" y="341.6" font-size="5.4" text-anchor="middle" font-weight="bold" stroke="#1c1c1c" stroke-width="0.3" fill="#1c1c1c" >*</text>
<text x="93.5" y="438.7" font-size="5.2" text-anchor="middle" font-weight="bold" stroke="#111" stroke-width="0.3" fill="#111" >-</text>
<text x="105.25" y="438.7" font-size="5.2" text-anchor="middle" font-weight="bold" stroke="#111" stroke-width="0.3" fill="#111" >+</text>
<text x="116.25" y="438.7" font-size="5.2" text-anchor="middle" font-weight="bold" stroke="#111" stroke-width="0.3" fill="#111" >+</text>
<text x="170.25" y="320.1" font-size="7.7" text-anchor="middle" font-weight="bold" stroke="#111" stroke-width="0.3" fill="#111" >XBP1</text>
<line x1="153.9" y1="330.6" x2="153.9" y2="430.1" stroke="#5a5a5a" stroke-width="1.15"/>
<line x1="153.4" y1="429.5" x2="189.4" y2="429.5" stroke="#1c1c1c" stroke-width="1.2"/>
<line x1="152.0" y1="347.2" x2="153.9" y2="347.2" stroke="#1c1c1c" stroke-width="1.0"/>
<text x="151.3" y="349.2" font-size="5.5" text-anchor="end" font-weight="bold" stroke="#1c1c1c" stroke-width="0.3" fill="#1c1c1c" >1.0</text>
<line x1="152.0" y1="388.3" x2="153.9" y2="388.3" stroke="#1c1c1c" stroke-width="1.0"/>
<text x="151.3" y="390.3" font-size="5.5" text-anchor="end" font-weight="bold" stroke="#1c1c1c" stroke-width="0.3" fill="#1c1c1c" >0.5</text>
<line x1="152.0" y1="429.7" x2="153.9" y2="429.7" stroke="#1c1c1c" stroke-width="1.0"/>
<text x="151.3" y="431.7" font-size="5.5" text-anchor="end" font-weight="bold" stroke="#1c1c1c" stroke-width="0.3" fill="#1c1c1c" >0.0</text>
<line x1="159.75" y1="429.5" x2="159.75" y2="431.6" stroke="#1c1c1c" stroke-width="0.9"/>
<line x1="171.25" y1="429.5" x2="171.25" y2="431.6" stroke="#1c1c1c" stroke-width="0.9"/>
<line x1="183.1" y1="429.5" x2="183.1" y2="431.6" stroke="#1c1c1c" stroke-width="0.9"/>
<rect x="155" y="404.75" width="9" height="24.75" fill="#8c8c8c"/>
<rect x="167.25" y="346.6" width="8.75" height="82.89999999999998" fill="#8c8c8c"/>
<rect x="179" y="395.75" width="8.5" height="33.75" fill="#0a0a0a"/>
<line x1="183.25" y1="388.75" x2="183.25" y2="395.75" stroke="#0a0a0a" stroke-width="0.9"/>
<line x1="180.95" y1="388.75" x2="185.55" y2="388.75" stroke="#0a0a0a" stroke-width="1.0"/>
<line x1="159.4" y1="343.1" x2="171.9" y2="343.1" stroke="#1c1c1c" stroke-width="0.8"/>
<line x1="159.4" y1="341.3" x2="159.4" y2="344.90000000000003" stroke="#1c1c1c" stroke-width="0.9"/>
<line x1="171.9" y1="341.3" x2="171.9" y2="344.90000000000003" stroke="#1c1c1c" stroke-width="0.9"/>
<text x="165.65" y="341.6" font-size="5.4" text-anchor="middle" font-weight="bold" stroke="#1c1c1c" stroke-width="0.3" fill="#1c1c1c" >***</text>
<line x1="171.9" y1="343.1" x2="184.4" y2="343.1" stroke="#1c1c1c" stroke-width="0.8"/>
<line x1="171.9" y1="341.3" x2="171.9" y2="344.90000000000003" stroke="#1c1c1c" stroke-width="0.9"/>
<line x1="184.4" y1="341.3" x2="184.4" y2="344.90000000000003" stroke="#1c1c1c" stroke-width="0.9"/>
<text x="178.15" y="341.6" font-size="5.4" text-anchor="middle" font-weight="bold" stroke="#1c1c1c" stroke-width="0.3" fill="#1c1c1c" >*</text>
<text x="159.75" y="438.7" font-size="5.2" text-anchor="middle" font-weight="bold" stroke="#111" stroke-width="0.3" fill="#111" >-</text>
<text x="171.25" y="438.7" font-size="5.2" text-anchor="middle" font-weight="bold" stroke="#111" stroke-width="0.3" fill="#111" >+</text>
<text x="182.75" y="438.7" font-size="5.2" text-anchor="middle" font-weight="bold" stroke="#111" stroke-width="0.3" fill="#111" >+</text>
<text x="238.6" y="320.1" font-size="7.7" text-anchor="middle" font-weight="bold" stroke="#111" stroke-width="0.3" fill="#111" >XBP1s</text>
<line x1="221.7" y1="330.6" x2="221.7" y2="430.1" stroke="#5a5a5a" stroke-width="1.15"/>
<line x1="221.2" y1="429.5" x2="257.25" y2="429.5" stroke="#1c1c1c" stroke-width="1.2"/>
<line x1="219.79999999999998" y1="338.8" x2="221.7" y2="338.8" stroke="#1c1c1c" stroke-width="1.0"/>
<text x="219.1" y="340.8" font-size="5.5" text-anchor="end" font-weight="bold" stroke="#1c1c1c" stroke-width="0.3" fill="#1c1c1c" >1.0</text>
<line x1="219.79999999999998" y1="384.2" x2="221.7" y2="384.2" stroke="#1c1c1c" stroke-width="1.0"/>
<text x="219.1" y="386.2" font-size="5.5" text-anchor="end" font-weight="bold" stroke="#1c1c1c" stroke-width="0.3" fill="#1c1c1c" >0.5</text>
<line x1="219.79999999999998" y1="429.7" x2="221.7" y2="429.7" stroke="#1c1c1c" stroke-width="1.0"/>
<text x="219.1" y="431.7" font-size="5.5" text-anchor="end" font-weight="bold" stroke="#1c1c1c" stroke-width="0.3" fill="#1c1c1c" >0.0</text>
<line x1="227.5" y1="429.5" x2="227.5" y2="431.6" stroke="#1c1c1c" stroke-width="0.9"/>
<line x1="239.4" y1="429.5" x2="239.4" y2="431.6" stroke="#1c1c1c" stroke-width="0.9"/>
<line x1="251" y1="429.5" x2="251" y2="431.6" stroke="#1c1c1c" stroke-width="0.9"/>
<rect x="222.75" y="416" width="9.150000000000006" height="13.5" fill="#8c8c8c"/>
<line x1="227.325" y1="414.5" x2="227.325" y2="416" stroke="#8c8c8c" stroke-width="0.9"/>
<line x1="225.02499999999998" y1="414.5" x2="229.625" y2="414.5" stroke="#8c8c8c" stroke-width="1.0"/>
<rect x="235.25" y="338.8" width="8.5" height="90.69999999999999" fill="#8c8c8c"/>
<rect x="246.9" y="401.6" width="8.349999999999994" height="27.899999999999977" fill="#0a0a0a"/>
<line x1="251.075" y1="396.6" x2="251.075" y2="401.6" stroke="#0a0a0a" stroke-width="0.9"/>
<line x1="248.77499999999998" y1="396.6" x2="253.375" y2="396.6" stroke="#0a0a0a" stroke-width="1.0"/>
<line x1="227.5" y1="335.6" x2="239.4" y2="335.6" stroke="#1c1c1c" stroke-width="0.8"/>
<line x1="227.5" y1="333.8" x2="227.5" y2="337.40000000000003" stroke="#1c1c1c" stroke-width="0.9"/>
<line x1="239.4" y1="333.8" x2="239.4" y2="337.40000000000003" stroke="#1c1c1c" stroke-width="0.9"/>
<text x="233.45" y="334.90000000000003" font-size="5.4" text-anchor="middle" font-weight="bold" stroke="#1c1c1c" stroke-width="0.3" fill="#1c1c1c" >***</text>
<line x1="239.4" y1="335.6" x2="252.5" y2="335.6" stroke="#1c1c1c" stroke-width="0.8"/>
<line x1="239.4" y1="333.8" x2="239.4" y2="337.40000000000003" stroke="#1c1c1c" stroke-width="0.9"/>
<line x1="252.5" y1="333.8" x2="252.5" y2="337.40000000000003" stroke="#1c1c1c" stroke-width="0.9"/>
<text x="245.95" y="334.90000000000003" font-size="5.4" text-anchor="middle" font-weight="bold" stroke="#1c1c1c" stroke-width="0.3" fill="#1c1c1c" >***</text>
<text x="227.75" y="438.7" font-size="5.2" text-anchor="middle" font-weight="bold" stroke="#111" stroke-width="0.3" fill="#111" >-</text>
<text x="239.4" y="438.7" font-size="5.2" text-anchor="middle" font-weight="bold" stroke="#111" stroke-width="0.3" fill="#111" >+</text>
<text x="250.6" y="438.7" font-size="5.2" text-anchor="middle" font-weight="bold" stroke="#111" stroke-width="0.3" fill="#111" >+</text>
<text x="258.1" y="439.75" font-size="7.55" text-anchor="start" stroke="#111" stroke-width="0.2" fill="#111"  textLength="42.5" lengthAdjust="spacingAndGlyphs">CD40L+IL21</text>
</g>
<defs><filter id="bl" x="0" y="0" width="520" height="441" filterUnits="userSpaceOnUse"><feGaussianBlur stdDeviation="0.35"/></filter></defs>
</svg>
</body></html>
